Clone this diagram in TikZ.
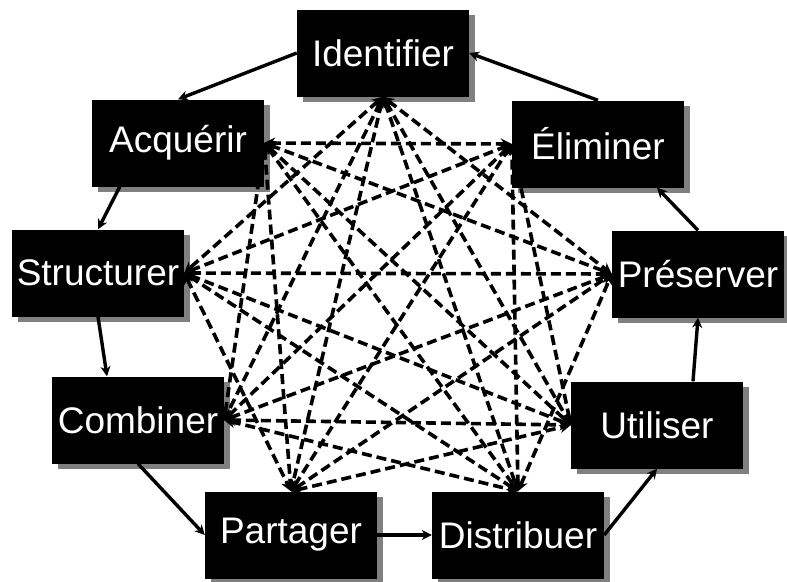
\documentclass[tikz,border=0pt]{standalone}
\usepackage{fontspec}
\setmainfont{Liberation Sans}
\usetikzlibrary{arrows.meta,shadows,calc}
\begin{document}
\begin{tikzpicture}[x=1pt,y=-1pt,
  box/.style={fill=black,text=white,minimum width=172pt,minimum height=87pt,inner sep=0pt,
    font=\fontsize{37}{40}\selectfont,
    drop shadow={shadow xshift=6pt,shadow yshift=-5pt,fill=black!50,opacity=1}},
  cyc/.style={line width=3.4pt,-{Stealth[length=10pt,width=10pt]}},
  web/.style={line width=3.6pt,dash pattern=on 10pt off 5pt,{Stealth[length=11pt,width=11pt]}-{Stealth[length=11pt,width=11pt]}}]
\useasboundingbox (0,0) rectangle (787,581);
\node[box] (id)  at (383,53)  {Identifier};
\node[box] (acq) at (178,143) {Acquérir};
\node[box] (eli) at (598,144) {Éliminer};
\node[box] (str) at (98,273)  {Structurer};
\node[box] (pre) at (698,274) {Préserver};
\node[box] (com) at (138,420) {Combiner};
\node[box] (uti) at (657,425) {Utiliser};
\node[box] (par) at (291,535) {Partager};
\node[box] (dis) at (518,535) {Distribuer};
% cycle
\draw[cyc] (id.west) -- (acq.north);
\draw[cyc] ($(acq.south west)+(28,0)$) -- (str.north);
\draw[cyc] (str.south) -- ($(com.north)+(-31,0)$);
\draw[cyc] (com.south) -- (par.west);
\draw[cyc] (par.east) -- (dis.west);
\draw[cyc] (dis.east) -- (uti.south);
\draw[cyc] ($(uti.north)+(36,0)$) -- (pre.south);
\draw[cyc] (pre.north) -- ($(eli.south)+(59,0)$);
\draw[cyc] (eli.north) -- (id.east);
% web
\foreach \a/\b in {id.south/str.east, id.south/com.east, id.south/par.north, id.south/dis.north,
  id.south/uti.west, id.south/pre.west,
  acq.east/com.east, acq.east/par.north, acq.east/dis.north, acq.east/uti.west, acq.east/pre.west, acq.east/eli.west,
  str.east/par.north, str.east/dis.north, str.east/uti.west, str.east/pre.west, str.east/eli.west,
  com.east/dis.north, com.east/uti.west, com.east/pre.west, com.east/eli.west,
  par.north/uti.west, par.north/pre.west, par.north/eli.west,
  dis.north/pre.west, dis.north/eli.west,
  uti.west/eli.west}
  \draw[web] (\a) -- (\b);
\end{tikzpicture}
\end{document}
